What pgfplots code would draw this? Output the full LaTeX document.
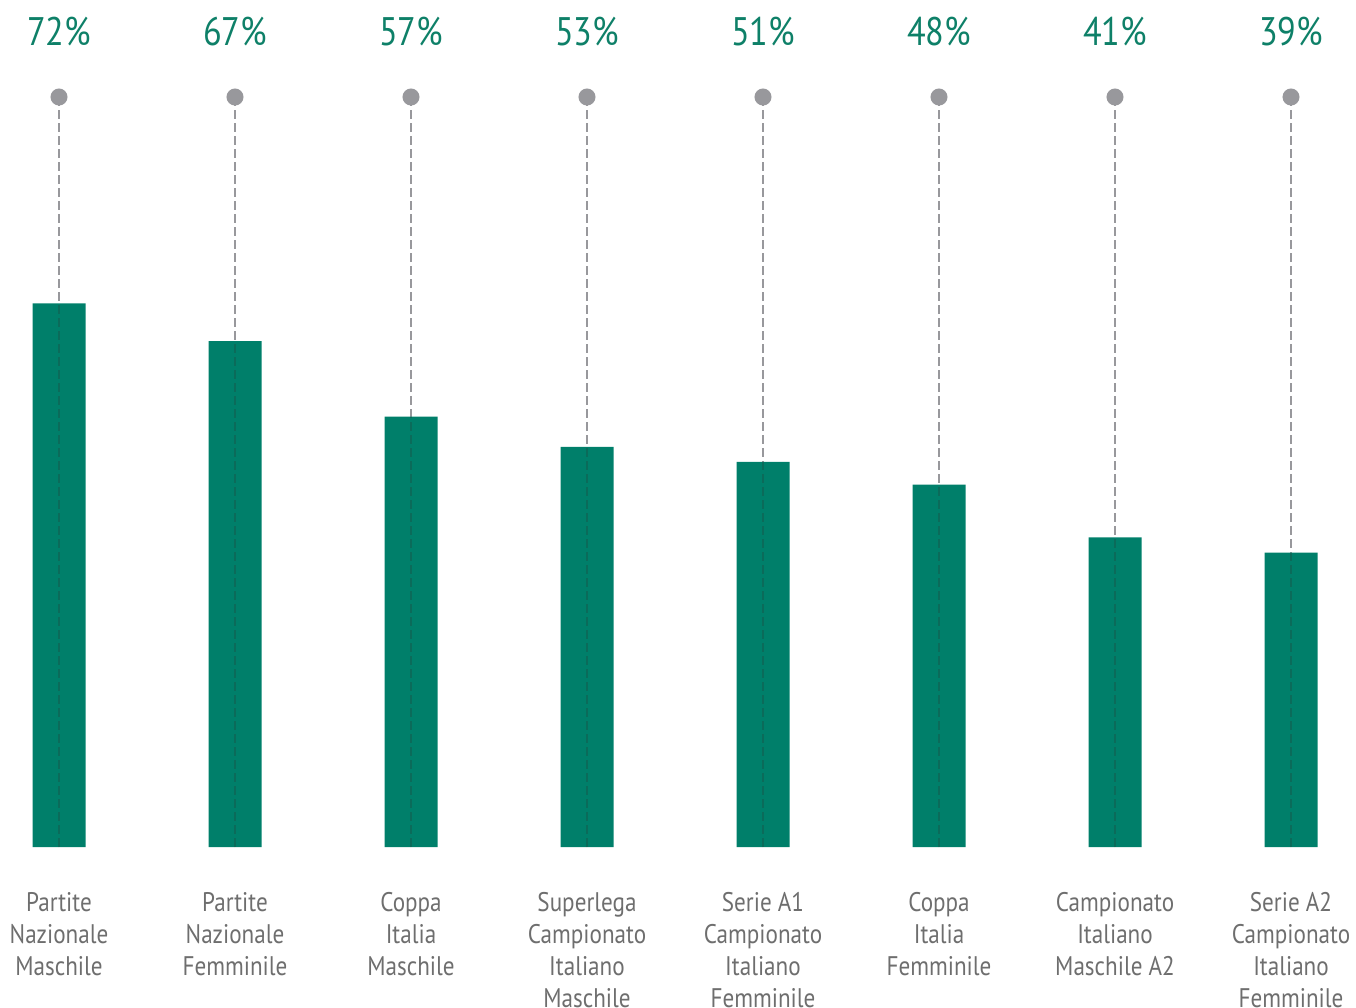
\documentclass[border=0pt]{standalone}
\usepackage{pgfplots}
\pgfplotsset{compat=1.18}
\usepackage{fontspec}
\setmainfont[FakeStretch=0.86]{PT Sans}
\definecolor{bargreen}{HTML}{007F6A}
\definecolor{pctgreen}{HTML}{0E8068}
\definecolor{dotgrey}{HTML}{98989C}
\definecolor{labelgrey}{HTML}{6E6E6E}
\definecolor{darkline}{HTML}{0B6B5A}
\begin{document}
\begin{tikzpicture}
\begin{axis}[
  width=678bp, height=423.5bp, scale only axis,
  xmin=-0.33523, xmax=7.36932, ymin=0, ymax=112.19,
  clip=false,
  axis line style={draw=none},
  major tick length=0pt,
  ytick=\empty,
  xtick={0,...,7},
  xticklabels={{Partite\\Nazionale\\Maschile},{Partite\\Nazionale\\Femminile},{Coppa\\Italia\\Maschile},{Superlega\\Campionato\\Italiano\\Maschile},{Serie A1\\Campionato\\Italiano\\Femminile},{Coppa\\Italia\\Femminile},{Campionato\\Italiano\\Maschile A2},{Serie A2\\Campionato\\Italiano\\Femminile}},
  xticklabel style={align=center, font=\fontsize{13.5}{16.1}\selectfont, text=labelgrey, yshift=-19bp},
]
% full dashed guide with dot
\addplot[ycomb, dotgrey, line width=1bp, dash pattern=on 4.5bp off 2bp,
  mark=*, mark size=3.75bp, mark options={solid, fill=dotgrey, draw=none}]
  coordinates {(0,99.34) (1,99.34) (2,99.34) (3,99.34) (4,99.34) (5,99.34) (6,99.34) (7,99.34)};
% bars
\addplot[ybar, bar width=26.5bp, fill=bargreen, draw=none]
  coordinates {(0,72) (1,67) (2,57) (3,53) (4,51) (5,48) (6,41) (7,39)};
% dashed line inside bars
\addplot[ycomb, darkline, line width=1bp, dash pattern=on 4.5bp off 2bp, mark=none]
  coordinates {(0,72) (1,67) (2,57) (3,53) (4,51) (5,48) (6,41) (7,39)};
% percentage labels
\addplot[draw=none, mark=none, point meta=explicit symbolic,
  nodes near coords={\pgfplotspointmeta\%},
  nodes near coords style={anchor=center, font=\fontsize{20}{24}\selectfont, text=pctgreen}]
  coordinates {(0,107.95)[72] (1,107.95)[67] (2,107.95)[57] (3,107.95)[53] (4,107.95)[51] (5,107.95)[48] (6,107.95)[41] (7,107.95)[39]};
\end{axis}
\pgfresetboundingbox
\path[use as bounding box] (current axis.south west) ++(0,-80.5bp) rectangle (current axis.north east);
\end{tikzpicture}
\end{document}
